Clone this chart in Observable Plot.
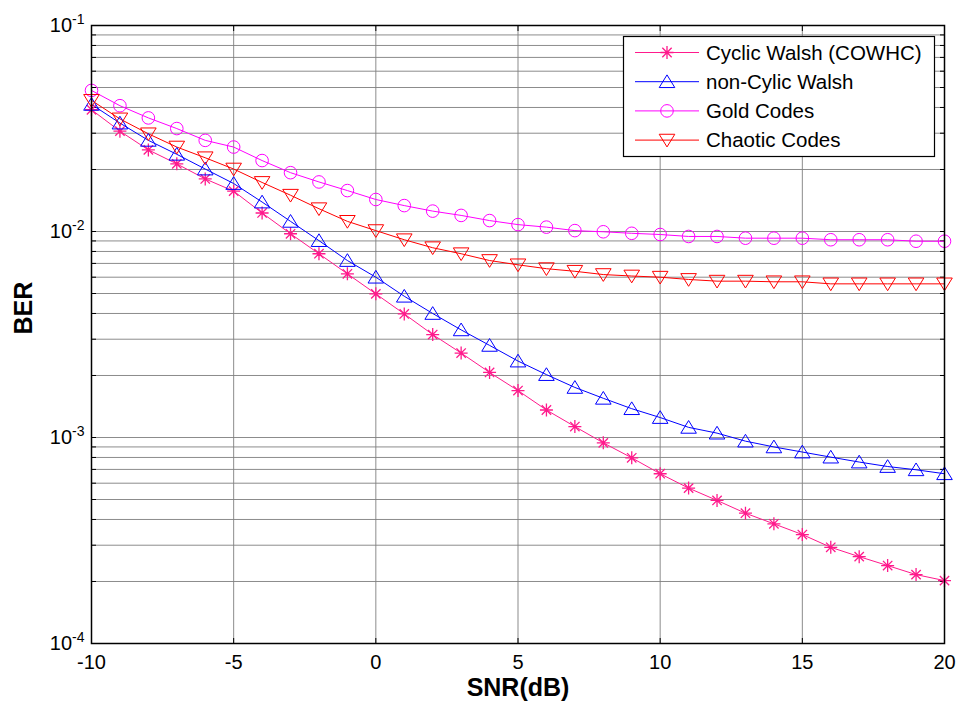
<!DOCTYPE html>
<html><head><meta charset="utf-8">
<script src="https://cdn.jsdelivr.net/npm/d3@7"></script>
<script src="https://cdn.jsdelivr.net/npm/@observablehq/plot@0.6"></script>
<style>
body{margin:0;background:#fff}
#chart{position:relative;width:958px;height:704px}
</style>
</head><body><div id="chart"></div>
<script>
// ---- data ----
const snr = [-10,-9,-8,-7,-6,-5,-4,-3,-2,-1,0,1,2,3,4,5,6,7,8,9,10,11,12,13,14,15,16,17,18,19,20];
const cyclicWalsh = [0.0390,0.0307,0.0249,0.0213,0.0180,0.0157,0.0123,0.00975,0.0078,0.00623,0.00498,0.00398,0.00316,0.00257,0.00207,0.00169,0.00136,0.00113,0.000942,0.000797,0.000667,0.000568,0.000495,0.000429,0.000381,0.000338,0.000293,0.000264,0.000239,0.000216,0.000202];
const nonCyclicWalsh = [0.0414,0.0336,0.0277,0.0237,0.0201,0.0171,0.0139,0.0112,0.00903,0.00723,0.0060,0.00485,0.0040,0.00333,0.0028,0.00235,0.00202,0.00175,0.00155,0.00138,0.00125,0.00112,0.00105,0.00096,0.00090,0.00085,0.000803,0.00076,0.000723,0.000697,0.000667];
const goldCodes = [0.0484,0.0408,0.0356,0.0316,0.0277,0.0257,0.0221,0.0193,0.0174,0.0158,0.0143,0.01336,0.01256,0.01197,0.0113,0.0108,0.0105,0.0101,0.00997,0.0098,0.00967,0.00946,0.00946,0.00928,0.00928,0.00928,0.00912,0.00912,0.00912,0.00897,0.00897];
const chaoticCodes = [0.0433,0.0352,0.0298,0.0257,0.0228,0.0201,0.0173,0.0150,0.0129,0.0112,0.0101,0.00912,0.00834,0.0078,0.00723,0.00689,0.0066,0.00641,0.00618,0.00608,0.0060,0.00585,0.00574,0.00574,0.0057,0.0057,0.00557,0.00557,0.00557,0.00557,0.00557];
const seriesNames = ["Cyclic Walsh (COWHC)", "non-Cylic Walsh", "Gold Codes", "Chaotic Codes"];
const seriesColors = ["#ff1a8c", "#0000ff", "#ff00ff", "#ff0000"];
const xTicks = [-10,-5,0,5,10,15,20];
const yDecades = [1e-4,1e-3,1e-2,1e-1];
const yMinor = [2e-4,3e-4,4e-4,5e-4,6e-4,7e-4,8e-4,9e-4,2e-3,3e-3,4e-3,5e-3,6e-3,7e-3,8e-3,9e-3,2e-2,3e-2,4e-2,5e-2,6e-2,7e-2,8e-2,9e-2];
const xLabel = "SNR(dB)";
const yLabel = "BER";

// ---- symbols ----
const symStar = {draw(ctx, size){const r=Math.sqrt(size/Math.PI);const d=r*0.72;
  ctx.moveTo(0,-r);ctx.lineTo(0,r);ctx.moveTo(-r,0);ctx.lineTo(r,0);
  ctx.moveTo(-d,-d);ctx.lineTo(d,d);ctx.moveTo(-d,d);ctx.lineTo(d,-d);}};
const symTriUp = {draw(ctx, size){const r=Math.sqrt(size/Math.PI);
  ctx.moveTo(0,-r*1.05);ctx.lineTo(r*1.2,r*0.9);ctx.lineTo(-r*1.2,r*0.9);ctx.closePath();}};
const symTriDown = {draw(ctx, size){const r=Math.sqrt(size/Math.PI);
  ctx.moveTo(0,r*1.05);ctx.lineTo(r*1.2,-r*0.9);ctx.lineTo(-r*1.2,-r*0.9);ctx.closePath();}};
const symCircle = {draw(ctx, size){const r=Math.sqrt(size/Math.PI);ctx.moveTo(r,0);ctx.arc(0,0,r,0,2*Math.PI);}};
const seriesSymbols = [symStar, symTriUp, symCircle, symTriDown];
const seriesR = [6.5, 6.5, 6.3, 6.5];
const seriesStrokeW = [1.3, 1, 1, 1];
const seriesValues = [cyclicWalsh, nonCyclicWalsh, goldCodes, chaoticCodes];

const rows = [];
seriesNames.forEach((name, i) => snr.forEach((x, j) => rows.push({snr: x, ber: seriesValues[i][j], series: name})));

const font = "'Liberation Sans', Arial, sans-serif";
const yAll = yDecades.concat(yMinor);

const marks = [
  Plot.gridY(yAll, {stroke: "#808080", strokeOpacity: 0.9}),
  Plot.gridX(xTicks, {stroke: "#808080", strokeOpacity: 0.9}),
  Plot.axisX({ticks: xTicks, tickSize: 0, tickPadding: 11, tickFormat: d => String(d), label: null}),
  Plot.axisX({ticks: xTicks, tickSize: -5, tickFormat: () => "", label: null}),
  Plot.axisX({anchor: "top", ticks: xTicks, tickSize: -5, tickFormat: () => "", label: null}),
  Plot.axisY({ticks: yDecades, tickSize: 0, tickPadding: 7, tickFormat: d => String(Math.round(Math.log10(d))), label: null}),
  Plot.axisY({ticks: yAll, tickSize: -5, tickFormat: () => "", label: null}),
  Plot.axisY({anchor: "right", ticks: yAll, tickSize: -5, tickFormat: () => "", label: null}),
  Plot.text([yLabel], {frameAnchor: "left", dx: -68, rotate: -90, fontSize: 25, fontWeight: "bold", fill: "black"}),
  Plot.text([xLabel], {frameAnchor: "bottom", dy: 52, fontSize: 25, fontWeight: "bold", fill: "black"}),
  Plot.line(rows, {x: "snr", y: "ber", z: "series", stroke: "series", strokeWidth: 1})
];
seriesNames.forEach((name, i) => {
  marks.push(Plot.dot(rows.filter(d => d.series === name), {x: "snr", y: "ber", symbol: seriesSymbols[i], r: seriesR[i], stroke: seriesColors[i], fill: "none", strokeWidth: seriesStrokeW[i]}));
});
marks.push(Plot.frame({stroke: "black", strokeWidth: 1.5}));

const svg = Plot.plot({
  width: 958, height: 704,
  marginLeft: 91, marginRight: 14, marginTop: 25, marginBottom: 61,
  style: {fontFamily: font, background: "white", color: "black"},
  x: {domain: [-10, 20], label: null},
  y: {type: "log", domain: [1e-4, 1e-1], label: null},
  color: {domain: seriesNames, range: seriesColors},
  marks
});

// tick label font sizes
d3.select(svg).selectAll('g[aria-label="x-axis tick label"], g[aria-label="y-axis tick label"]')
  .attr("font-size", 20).attr("fill", "black");

// superscript exponents on y tick labels
d3.select(svg).selectAll('g[aria-label="y-axis tick label"] text').each(function(){
  const e = this.textContent;
  if (!e) return;
  const t = d3.select(this);
  t.text("10");
  t.append("tspan").attr("dy", "-0.55em").attr("font-size", "14px").text(e);
});

// legend
const lg = d3.select(svg).append("g").attr("font-family", font).attr("text-anchor", "start");
lg.append("rect").attr("x", 623.5).attr("y", 36.5).attr("width", 311).attr("height", 120)
  .attr("fill", "white").attr("stroke", "black").attr("stroke-width", 1.2);
seriesNames.forEach((name, i) => {
  const y = 52.5 + i * 29.2;
  lg.append("line").attr("x1", 635).attr("x2", 699).attr("y1", y).attr("y2", y).attr("stroke", seriesColors[i]);
  lg.append("path").attr("transform", `translate(667,${y})`)
    .attr("d", d3.symbol(seriesSymbols[i], Math.PI * seriesR[i] * seriesR[i])())
    .attr("fill", "none").attr("stroke", seriesColors[i]).attr("stroke-width", seriesStrokeW[i]);
  lg.append("text").attr("x", 706).attr("y", y).attr("dy", "0.35em").attr("font-size", 20.5)
    .attr("text-anchor", "start").attr("fill", "black").text(name);
});

document.getElementById("chart").appendChild(svg);
</script>
</body></html>
